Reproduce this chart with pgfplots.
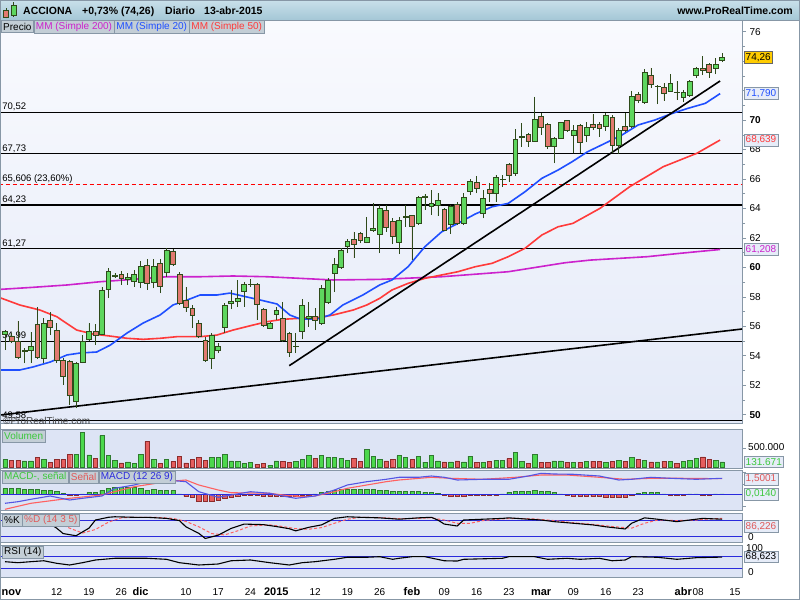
\documentclass[border=0pt]{standalone}
\usepackage{fontspec}
\setmainfont{Liberation Sans}
\usepackage{pgfplots}
\pgfplotsset{compat=1.18}
\usepackage{pgfplotstable}
\usepgfplotslibrary{statistics,fillbetween}

\newcommand\fs[1]{\fontsize{#1}{#1}\selectfont}

\definecolor{frame}{HTML}{8797A6}
\definecolor{hdrtop}{HTML}{C9E0EA}
\definecolor{hdrbot}{HTML}{A4C7D6}
\definecolor{tabfill}{HTML}{C3CED6}
\definecolor{pbgtop}{HTML}{F9FAFE}
\definecolor{pbgbot}{HTML}{E4EAF8}
\definecolor{indbg}{HTML}{DDE4F5}
\definecolor{cgreen}{HTML}{5ED65E}
\definecolor{cred}{HTML}{E27A70}
\definecolor{cedge}{HTML}{2E4A1A}
\definecolor{mablue}{HTML}{1F4FFF}
\definecolor{mared}{HTML}{FF3A3A}
\definecolor{mamag}{HTML}{CC22CC}
\definecolor{vgreen}{HTML}{4CD84C}
\definecolor{vgedge}{HTML}{2F7A2F}
\definecolor{vred}{HTML}{E65E5E}
\definecolor{vredge}{HTML}{8C2C2C}
\definecolor{indblue}{HTML}{2A2ADC}
\definecolor{txtgreen}{HTML}{3CC83C}
\definecolor{txtred}{HTML}{E05858}
\definecolor{gold}{HTML}{FFCC00}
\definecolor{boxfill}{HTML}{E6ECF8}

% daily candles: index, open, high, low, close, volume (k), macd histogram
\pgfplotstableread{
i o h l c v m
0 55.45 55.74 54.38 55.63 196 0.6
1 55.29 55.52 54.84 54.95 178 0.6
2 54.95 56.35 53.77 53.86 178 0.6
3 54.30 54.50 53.48 54.35 160 0.5
4 54.34 55.63 53.48 54.66 160 0.5
5 56.13 57.32 53.77 53.86 249 0.5
6 53.82 56.54 53.48 56.20 196 0.4
7 56.40 56.94 55.40 55.90 125 0.4
8 55.69 56.20 53.48 53.68 196 0.3
9 53.68 53.82 52.01 52.62 196 0.1
10 53.59 53.70 50.65 51.33 338 -0.1
11 50.92 53.59 50.43 53.48 338 -0.1
12 53.55 55.40 53.48 54.99 916 0.05
13 55.11 56.20 54.99 55.67 320 0.2
14 55.67 56.13 54.72 55.40 222 0.2
15 55.45 58.68 55.40 58.46 836 0.4
16 58.51 59.93 57.90 59.75 302 0.6
17 59.42 59.59 59.25 59.44 178 0.7
18 59.52 59.75 58.80 59.25 107 0.7
19 59.18 59.59 58.80 59.29 134 0.7
20 59.07 59.81 58.68 59.52 89 0.7
21 58.95 60.43 58.57 60.04 329 0.6
22 60.16 60.56 58.46 58.91 676 0.4
23 58.95 60.56 58.57 60.04 196 0.5
24 60.27 60.56 58.23 58.68 89 0.4
25 59.63 61.29 59.36 61.17 196 0.4
26 61.10 61.24 60.11 60.20 142 0.4
27 59.52 59.66 57.44 57.55 285 0.05
28 57.78 58.68 56.94 57.26 107 -0.2
29 57.21 57.44 55.86 56.71 196 -0.3
30 56.20 56.42 55.18 55.29 249 -0.7
31 55.02 55.29 53.59 53.70 178 -0.7
32 53.82 55.52 53.07 55.36 249 -0.7
33 54.38 54.88 54.16 54.66 249 -0.6
34 55.90 57.55 55.52 57.39 329 -0.4
35 57.55 58.46 57.15 57.69 160 -0.3
36 57.71 59.14 57.32 57.90 142 -0.2
37 58.34 59.02 57.32 58.84 89 -0.1
38 58.85 59.18 58.68 58.87 116 -0.05
39 58.84 58.91 56.42 57.49 71 -0.05
40 57.15 57.21 55.97 56.08 89 -0.2
41 55.86 56.30 55.79 56.20 36 -0.2
42 56.81 57.32 56.42 57.05 160 -0.2
43 56.54 57.66 54.95 55.02 142 -0.2
44 55.52 55.63 53.93 54.20 125 -0.2
45 54.64 55.52 54.16 54.66 142 -0.2
46 55.63 57.83 55.11 57.39 196 -0.1
47 56.57 57.64 55.97 56.65 302 -0.1
48 56.69 57.23 55.74 56.42 222 0.05
49 56.20 58.80 56.08 58.57 311 0.2
50 57.60 59.25 57.55 59.09 249 0.3
51 59.59 60.63 58.32 60.22 249 0.4
52 60.00 61.30 59.90 61.17 222 0.5
53 61.40 61.90 60.95 61.74 178 0.5
54 61.90 62.42 60.61 61.56 222 0.5
55 62.30 62.42 61.63 61.85 142 0.5
56 61.69 63.43 61.63 62.03 463 0.5
57 62.48 64.38 62.42 62.65 285 0.5
58 62.26 64.23 60.95 64.00 196 0.4
59 63.84 64.23 62.42 62.71 160 0.4
60 63.09 63.32 61.58 62.12 196 0.3
61 61.69 63.43 60.90 63.16 302 0.3
62 63.40 64.23 62.75 63.45 249 0.3
63 63.50 63.55 60.49 62.75 196 0.3
64 62.98 64.84 62.87 64.75 285 0.3
65 64.78 64.97 63.89 64.82 125 0.2
66 64.16 65.25 63.55 64.34 311 0.2
67 64.23 65.02 63.48 64.52 160 0.1
68 63.94 64.00 62.48 62.53 134 -0.1
69 62.94 64.23 62.26 64.11 134 -0.2
70 64.30 64.45 62.87 62.98 160 -0.2
71 62.98 65.02 62.87 64.75 134 -0.2
72 65.18 65.97 64.91 65.81 285 -0.1
73 65.74 66.20 65.02 65.34 125 -0.05
74 63.66 65.25 63.32 64.68 125 -0.1
75 65.31 65.70 64.45 65.02 151 -0.1
76 65.02 66.26 64.45 66.11 178 -0.1
77 65.95 66.26 65.47 65.99 178 0.05
78 66.99 67.06 65.81 66.26 222 0.2
79 66.38 69.37 66.20 68.69 392 0.3
80 68.84 69.77 68.18 68.88 151 0.3
81 69.03 69.14 68.18 68.57 89 0.3
82 68.57 71.58 68.53 70.05 338 0.4
83 70.22 70.45 68.98 69.48 125 0.3
84 69.71 69.82 68.01 68.23 125 0.3
85 68.23 68.86 67.06 68.76 160 0.2
86 68.76 69.88 68.71 69.82 160 0.05
87 69.95 70.00 69.20 69.32 125 -0.1
88 68.93 69.66 67.74 69.30 125 -0.2
89 69.66 69.75 67.74 68.52 125 -0.2
90 68.93 69.88 68.48 69.48 151 -0.2
91 69.71 70.38 69.32 69.48 151 -0.2
92 69.71 69.88 68.86 69.43 151 -0.2
93 69.54 70.45 69.25 70.33 125 -0.3
94 70.15 70.33 67.74 68.30 151 -0.3
95 68.30 69.43 67.67 69.30 169 -0.3
96 69.57 70.45 69.20 69.27 151 -0.3
97 69.54 71.99 69.43 71.63 249 -0.1
98 71.74 71.92 71.13 71.31 196 0.1
99 71.17 73.46 71.09 73.24 178 0.2
100 73.05 73.55 72.19 72.44 134 0.2
101 72.26 72.37 71.06 72.28 134 0.2
102 72.22 72.49 71.31 71.81 151 0.05
103 71.97 73.10 71.92 72.49 151 -0.1
104 71.90 72.65 71.36 71.86 89 -0.1
105 71.51 72.04 71.20 71.88 151 -0.1
106 71.65 72.71 71.58 72.65 178 0.05
107 73.01 73.62 72.83 73.51 222 0.05
108 73.51 74.34 73.05 73.39 267 -0.1
109 73.78 73.85 72.87 73.24 196 -0.05
110 73.51 74.19 73.10 73.78 178 0.05
111 74.05 74.53 73.91 74.26 132 0.05
}\prices

\pgfplotstableread{
i p
-0.8 53.03
2.3 53.03
4.3 53.23
7.0 53.57
9.6 54.05
11.6 54.18
14.2 54.25
16.3 54.72
18.9 55.54
21.4 56.22
24.0 56.76
26.0 57.44
28.2 57.78
30.2 58.12
32.8 58.12
34.8 58.25
37.5 57.98
39.5 57.78
42.1 57.51
44.1 56.76
45.7 56.49
48.3 56.49
50.3 56.76
52.3 57.44
55.4 58.12
58.0 58.80
59.9 59.14
62.4 60.04
65.0 61.40
67.6 62.41
70.1 62.98
72.8 63.62
75.4 64.11
77.9 64.34
80.5 65.13
83.1 66.04
85.6 66.60
87.8 67.17
90.2 67.85
92.9 68.42
95.5 68.98
98.0 69.66
100.6 70.00
103.3 70.45
105.7 70.79
108.4 71.13
110.7 71.79
}\mmtwenty

\pgfplotstableread{
i p
-0.8 57.94
2.3 57.44
5.4 57.10
8.0 56.65
11.1 55.74
13.6 55.47
16.3 55.33
18.9 55.18
21.4 55.11
24.0 55.18
26.6 55.29
30.2 55.29
32.8 55.40
35.3 55.74
38.4 56.08
40.6 56.31
43.0 56.47
45.7 56.54
48.8 56.60
50.8 56.76
53.9 57.10
56.0 57.44
58.0 57.89
59.9 58.46
62.4 58.91
65.0 59.25
67.6 59.48
70.1 59.70
72.8 60.04
75.4 60.27
77.9 60.72
80.5 61.29
83.1 62.19
85.6 62.75
87.9 62.98
92.1 64.00
96.7 65.47
101.9 66.83
107.1 67.74
110.7 68.64
}\mmfifty

\pgfplotstableread{
i p
-0.8 58.50
4.3 58.64
9.6 58.80
14.7 59.02
19.8 59.18
25.1 59.36
30.2 59.36
35.3 59.41
40.6 59.36
45.7 59.25
50.8 59.14
58.0 59.18
67.6 59.36
77.9 59.70
86.7 60.31
90.6 60.49
99.4 60.72
104.5 60.95
110.7 61.21
}\mmtwohundred

\pgfplotstableread{
i m
0 -0.90
2 -0.74
4 -0.50
7 -0.17
10 -0.57
12 -0.40
15 -0.17
17 0.60
20 0.93
22 1.26
25 1.43
28 1.26
30 0.26
33 -0.30
35 -0.07
38 0.26
41 0.10
43 -0.17
45 -0.40
48 -0.17
51 0.43
53 0.93
56 1.26
59 1.50
61 1.70
64 1.70
66 1.83
68 1.70
70 1.43
74 1.50
78 1.50
81 1.83
83 2.10
85 2.03
88 2.00
92 1.83
95 1.43
97 1.50
100 1.70
103 1.60
107 1.50
111 1.60
}\macdline

\pgfplotstableread{
i s
0 -1.50
4 -0.90
10 -0.40
15 -0.07
20 0.76
25 1.26
28 1.43
30 0.93
33 0.43
35 0.16
41 0.10
43 -0.07
46 -0.24
48 -0.17
51 0.26
53 0.60
56 0.93
59 1.26
61 1.43
66 1.70
69 1.60
74 1.50
79 1.70
83 1.93
87 1.93
92 1.70
96 1.50
100 1.60
105 1.60
111 1.56
}\signal

\pgfplotstableread{
i k
0 88
3 88
6 80
8 50
9 30
11 22
13 50
14 80
16 90
17 92
20 90
22 90
25 86
27 78
28 55
30 31
31 12
33 24
35 49
37 65
40 63
42 56
44 48
45 40
47 53
49 62
51 86
53 92
55 90
58 88
61 83
64 88
66 90
67 80
68 65
70 58
71 80
74 83
77 86
78 88
81 83
83 80
85 74
88 68
91 62
93 55
96 47
97 68
99 88
101 83
104 74
106 80
108 86
111 83
}\stochk

\pgfplotstableread{
i d
0 86
3 88
6 85
8 72
10 50
12 32
14 45
16 72
18 88
20 90
23 90
26 86
28 75
30 55
32 30
34 25
36 40
38 58
41 62
43 56
45 48
47 46
49 52
51 68
53 83
55 90
58 89
61 85
64 86
66 88
68 80
70 68
72 68
74 78
77 84
79 86
82 84
85 78
88 70
91 64
94 56
97 50
99 68
101 80
104 78
107 80
109 84
111 86
}\stochd

\pgfplotstableread{
i r
0 52.8
2 49.3
4 52.8
6 56.0
8 47.2
10 41.4
12 49.3
14 58.6
17 64.5
20 64.5
22 64.5
25 61.0
27 49.3
30 41.4
33 44.8
35 56.0
38 58.6
41 49.3
44 41.4
46 49.3
48 52.8
51 61.0
53 68.0
56 68.0
58 70.0
60 61.0
61 64.5
63 70.0
65 70.0
68 56.0
70 55.0
71 61.0
77 64.5
78 70.0
82 70.0
84 61.0
87 64.5
89 61.0
92 64.5
94 56.0
96 58.6
97 70.0
101 68.0
104 61.0
107 66.6
111 68.6
}\rsi

\pgfplotsset{panel/.style={anchor=south west, scale only axis, width=742pt,
  xmin=-0.774, xmax=114.09}}

\begin{document}
\begin{tikzpicture}
\begin{scope}[x=1pt,y=1pt]
\fill[white] (0,0) rectangle (800,600);
\shade[top color=pbgtop, bottom color=pbgbot] (0,177) rectangle (742,580);
\draw[frame] (0.5,177) rectangle (742,580);
\filldraw[fill=indbg, draw=frame] (0.5,132) rectangle (742,171);
\filldraw[fill=indbg, draw=frame] (0.5,90) rectangle (742,130);
\filldraw[fill=indbg, draw=frame] (0.5,58) rectangle (742,87);
\filldraw[fill=indbg, draw=frame] (0.5,23) rectangle (742,55);
\end{scope}

% ---------------- price panel ----------------
\begin{axis}[panel, at={(0pt,177pt)}, height=403pt,
  ymin=49.43, ymax=76.79,
  axis x line=none, axis y line*=right,
  y axis line style={draw=frame, line width=0.8pt},
  ytick={50,52,...,76}, minor ytick={51,53,...,75},
  yticklabels={\textbf{50},52,54,56,58,\textbf{60},62,64,66,68,\textbf{70},{},{},76},
  tick align=outside, major tick length=4pt, minor tick length=3pt,
  every tick/.style={draw=frame},
  yticklabel style={font=\fs{10}, text=black},
  boxplot/draw direction=y,
]
\foreach \lv in {70.52, 67.73, 64.23, 61.27, 54.99, 49.58}{
  \edef\tmp{\noexpand\addplot[black, line width=1.1pt] coordinates {(-1,\lv) (115,\lv)};}\tmp
}
\addplot[red, line width=1pt, dash pattern=on 4pt off 3pt] coordinates {(-1,65.606) (115,65.606)};
\node[anchor=south west, font=\fs{9.5}, inner sep=1pt] at (axis cs:-0.6,70.52) {70,52};
\node[anchor=south west, font=\fs{9.5}, inner sep=1pt] at (axis cs:-0.6,67.73) {67,73};
\node[anchor=south west, font=\fs{9.5}, inner sep=1pt] at (axis cs:-0.6,65.606) {65,606 (23,60\%)};
\node[anchor=south west, font=\fs{9.5}, inner sep=1pt] at (axis cs:-0.6,64.23) {64,23};
\node[anchor=south west, font=\fs{9.5}, inner sep=1pt] at (axis cs:-0.6,61.27) {61,27};
\node[anchor=south west, font=\fs{9.5}, inner sep=1pt] at (axis cs:-0.6,54.99) {54,99};
\node[anchor=south west, font=\fs{9.5}, inner sep=1pt] at (axis cs:-0.6,49.58) {49,58};

\addplot[mamag, line width=1.6pt] table[x=i,y=p]{\mmtwohundred};
\addplot[mared, line width=1.6pt] table[x=i,y=p]{\mmfifty};
\addplot[mablue, line width=1.6pt] table[x=i,y=p]{\mmtwenty};
\addplot[black, line width=1.6pt] coordinates {(-0.774,49.97) (114.09,55.81)};
\addplot[black, line width=1.6pt] coordinates {(44.0,53.32) (110.7,72.65)};

\pgfplotsinvokeforeach{0,...,111}{
  \pgfplotstablegetelem{#1}{o}\of\prices \edef\vo{\pgfplotsretval}
  \pgfplotstablegetelem{#1}{h}\of\prices \edef\vh{\pgfplotsretval}
  \pgfplotstablegetelem{#1}{l}\of\prices \edef\vl{\pgfplotsretval}
  \pgfplotstablegetelem{#1}{c}\of\prices \edef\vc{\pgfplotsretval}
  \pgfmathsetmacro\vlo{min(\vo,\vc)}
  \pgfmathsetmacro\vhi{max(\vo,\vc)}
  \pgfmathparse{\vc>=\vo ? 1 : 0}
  \ifdim\pgfmathresult pt>0.5pt \def\cfill{cgreen}\else\def\cfill{cred}\fi
  \edef\doit{\noexpand\addplot[draw=cedge, fill=\cfill, line width=0.6pt,
    boxplot prepared={draw direction=y, draw position=#1, lower whisker=\vl, lower quartile=\vlo,
      median=\vlo, upper quartile=\vhi, upper whisker=\vh,
      box extend=0.75, whisker extend=0}] coordinates {};}
  \doit
}
\end{axis}

% ---------------- volume ----------------
\begin{axis}[panel, at={(0pt,132pt)}, height=39pt, ymin=-30, ymax=1013, hide axis]
\addplot[ybar, bar width=4.3pt, fill=vgreen, draw=vgedge, restrict y to domain=0:5000]
  table[x=i, y expr={\thisrow{c}>=\thisrow{o} ? \thisrow{v} : -1}]{\prices};
\addplot[ybar, bar width=4.3pt, fill=vred, draw=vredge, restrict y to domain=0:5000]
  table[x=i, y expr={\thisrow{c}<\thisrow{o} ? \thisrow{v} : -1}]{\prices};
\end{axis}

% ---------------- MACD ----------------
\begin{axis}[panel, at={(0pt,90pt)}, height=40pt, ymin=-1.57, ymax=2.43, hide axis]
\addplot[ybar, bar width=4.3pt, fill=vgreen, draw=vgedge, restrict y to domain=0.001:10]
  table[x=i,y=m]{\prices};
\addplot[ybar, bar width=4.3pt, fill=vred, draw=vredge, restrict y to domain=-10:-0.001]
  table[x=i,y=m]{\prices};
\addplot[indblue, line width=0.9pt] coordinates {(-1,0) (115,0)};
\addplot[draw=none, name path=macd] table[x=i,y=m]{\macdline};
\addplot[draw=none, name path=sig] table[x=i,y=s]{\signal};
\addplot[fill=vgreen, opacity=0.85] fill between[of=macd and sig, soft clip={domain=-1:27.5}];
\addplot[fill=vred!70, opacity=0.85] fill between[of=macd and sig, soft clip={domain=27.5:48}];
\addplot[fill=vgreen, opacity=0.85] fill between[of=macd and sig, soft clip={domain=48:67.5}];
\addplot[fill=vred!70, opacity=0.85] fill between[of=macd and sig, soft clip={domain=67.5:77}];
\addplot[fill=vgreen, opacity=0.85] fill between[of=macd and sig, soft clip={domain=77:86}];
\addplot[fill=vred!70, opacity=0.85] fill between[of=macd and sig, soft clip={domain=86:112}];
\addplot[mared!80, line width=1.1pt] table[x=i,y=s]{\signal};
\addplot[indblue!80!white, line width=1.1pt] table[x=i,y=m]{\macdline};
\end{axis}

% ---------------- Stochastic ----------------
\begin{axis}[panel, at={(0pt,58pt)}, height=29pt, ymin=-1.1, ymax=105.9, hide axis]
\addplot[indblue, line width=0.9pt] coordinates {(-1,80) (115,80)};
\addplot[indblue, line width=0.9pt] coordinates {(-1,20) (115,20)};
\addplot[draw=none, name path=kk] table[x=i,y=k]{\stochk};
\addplot[draw=none, name path=dd] table[x=i,y=d]{\stochd};
\addplot[fill=mared!60, opacity=0.6] fill between[of=kk and dd, soft clip={domain=5:12.5}];
\addplot[fill=indblue!60, opacity=0.6] fill between[of=kk and dd, soft clip={domain=12.5:18}];
\addplot[fill=mared!60, opacity=0.6] fill between[of=kk and dd, soft clip={domain=25:32.5}];
\addplot[fill=indblue!60, opacity=0.6] fill between[of=kk and dd, soft clip={domain=32.5:39}];
\addplot[fill=indblue!60, opacity=0.6] fill between[of=kk and dd, soft clip={domain=47:54}];
\addplot[fill=mared!60, opacity=0.6] fill between[of=kk and dd, soft clip={domain=84:97}];
\addplot[fill=indblue!60, opacity=0.6] fill between[of=kk and dd, soft clip={domain=97:101}];
\addplot[mared!80, line width=1pt, dash pattern=on 3pt off 2pt] table[x=i,y=d]{\stochd};
\addplot[black, line width=1.1pt] table[x=i,y=k]{\stochk};
\end{axis}

% ---------------- RSI ----------------
\begin{axis}[panel, at={(0pt,23pt)}, height=32pt, ymin=0, ymax=110.3,
  axis x line*=bottom, axis y line=none, x axis line style={draw=none},
  xtick style={draw=none}, major tick length=0pt,
  xtick={1,8,13,18,21,28,33,38,42,48,53,58,63,68,73,78,83,88,93,98,105,107.3,113},
  xticklabels={{\fs{11}\bfseries nov},12,19,26,{\fs{11}\bfseries dic},10,17,24,{\fs{11}\bfseries 2015},12,19,26,{\fs{11}\bfseries feb},09,16,23,{\fs{11}\bfseries mar},09,16,23,{\fs{11}\bfseries abr},08,15},
  xticklabel style={font=\fs{10}, anchor=base, yshift=-18pt}]
\addplot[indblue, line width=0.9pt] coordinates {(-1,70) (115,70)};
\addplot[indblue, line width=0.9pt] coordinates {(-1,30) (115,30)};
\addplot[black, line width=1.1pt] table[x=i,y=r]{\rsi};
\end{axis}

\begin{scope}[x=1pt,y=1pt,
  lbl/.style={draw=frame, fill=tabfill, inner xsep=2pt, inner ysep=1.5pt, font=\fs{10}, anchor=north west, minimum height=12pt},
  val/.style={draw=frame, fill=boxfill, inner xsep=1.5pt, inner ysep=1.8pt, font=\fs{10}, anchor=west}]
\node[anchor=west, font=\fs{10}, text=black!75, inner sep=0pt] at (3,179.5) {©ProRealTime.com};
% header
\shade[top color=hdrtop, bottom color=hdrbot] (0,580) rectangle (800,600);
\draw[frame] (0,580) -- (800,580);
\filldraw[fill=cred, draw=cedge, line width=0.5pt] (3.5,583) rectangle (8.5,590);
\draw[cedge] (6,581.5) -- (6,583) (6,590) -- (6,592);
\filldraw[fill=cgreen, draw=cedge, line width=0.5pt] (11,585) rectangle (16,595);
\draw[cedge] (13.5,583) -- (13.5,585) (13.5,595) -- (13.5,598);
\node[anchor=base west, font=\fs{10.5}\bfseries, inner sep=0pt] at (23,585) {ACCIONA};
\node[anchor=base west, font=\fs{10.5}\bfseries, inner sep=0pt] at (82,585) {+0,73\% (74,26)};
\node[anchor=base west, font=\fs{10.5}\bfseries, inner sep=0pt] at (165,585) {Diario};
\node[anchor=base west, font=\fs{10.5}\bfseries, inner sep=0pt] at (204,585) {13-abr-2015};
\node[anchor=base east, font=\fs{10.5}\bfseries, inner sep=0pt] at (793,585) {www.ProRealTime.com};
% legend tabs
\node[lbl] (t1) at (1,579.5) {Precio};
\node[lbl, text=mamag] (t2) at (t1.north east) {MM (Simple 200)};
\node[lbl, text=mablue] (t3) at (t2.north east) {MM (Simple 20)};
\node[lbl, text=mared] (t4) at (t3.north east) {MM (Simple 50)};
% indicator labels
\node[lbl, text=txtgreen] at (2,170.5) {Volumen};
\node[lbl, text=txtgreen] (m1) at (2,129.5) {MACD-, señal};
\node[lbl, text=txtred] (m2) at (m1.north east) {Señal};
\node[lbl, text=indblue] (m3) at (m2.north east) {MACD (12 26 9)};
\node[lbl] (s1) at (2,86.5) {\%K};
\node[lbl, text=txtred] (s2) at (s1.north east) {\%D (14 3 5)};
\node[lbl] at (2,54.5) {RSI (14)};
% right-hand value boxes
\node[val, fill=gold, draw=black!60] at (744,542.8) {74,26};
\node[val, text=mablue] at (744,506.4) {71,790};
\node[val, text=mared] at (744,460) {68,639};
\node[val, text=mamag] at (744,350.5) {61,208};
\draw[frame] (742,152) -- (746,152);
\node[anchor=west, font=\fs{10}, inner sep=0pt] at (748,152.5) {500.000};
\node[val, text=txtgreen] at (744,138) {131.671};
\draw[frame] (742,128) -- (746,128) (742,116) -- (746,116) (742,94) -- (746,94);
\node[val, text=txtred] at (744,121) {1,5001};
\node[val, text=txtgreen] at (744,106) {0,0140};
\node[anchor=west, font=\fs{10}, inner sep=0pt] at (748,63) {0};
\node[val, text=txtred] at (744,73.5) {86,226};
\node[anchor=west, font=\fs{10}, inner sep=0pt] at (746,52) {100};
\node[val] at (744,43.3) {68,623};
\node[anchor=west, font=\fs{10}, inner sep=0pt] at (748,28) {0};
\draw[frame] (0.5,0.5) rectangle (799.5,599.5);
\pgfresetboundingbox
\useasboundingbox (0,0) rectangle (800,600);
\end{scope}
\end{tikzpicture}
\end{document}
